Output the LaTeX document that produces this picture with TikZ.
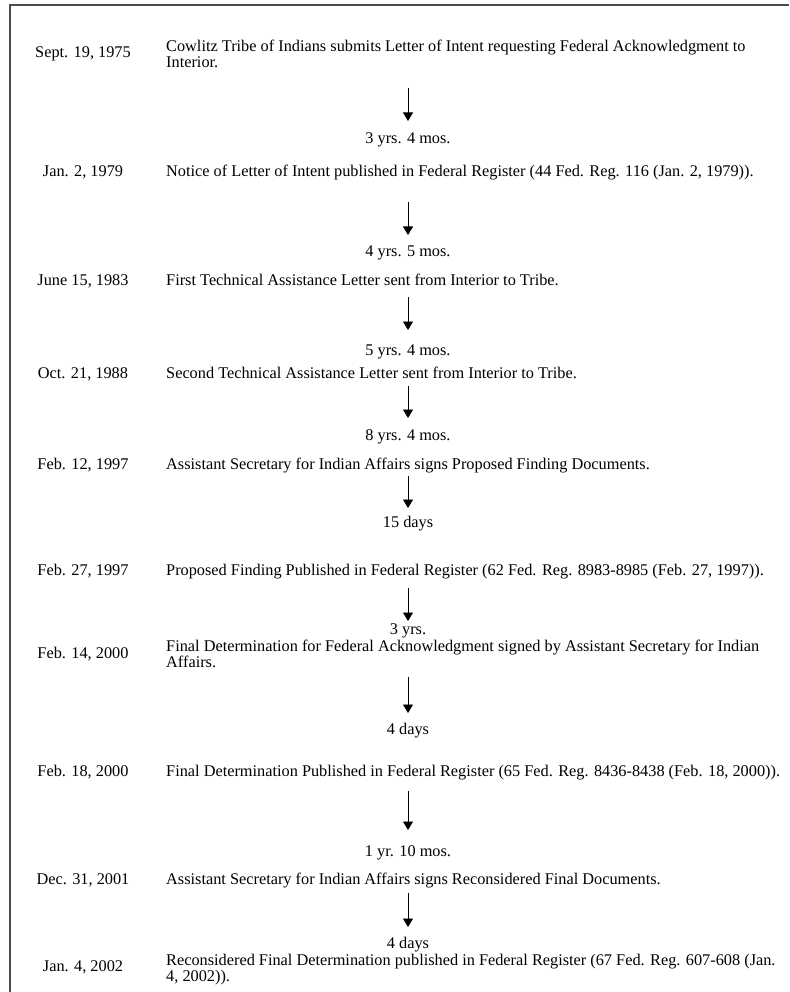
\documentclass[tikz,border=0pt]{standalone}
\usepackage{fontspec}
\setmainfont{Liberation Serif}
\usetikzlibrary{arrows.meta}
\newcommand\evfont{\fontsize{16.3}{16.3}\selectfont}
\begin{document}
\begin{tikzpicture}[x=1pt,y=-1pt,
  dt/.style={anchor=base, inner sep=0pt, font=\evfont},
  ev/.style={anchor=base west, inner sep=0pt, font=\evfont},
  evtwo/.style={anchor=north west, inner sep=0pt, align=left, font=\evfont},
  dur/.style={anchor=base, inner sep=0pt, font=\evfont},
  arr/.style={-{Triangle[width=10pt,length=8.5pt]}, line width=0.8pt},
  frame/.style={draw=black!70, line width=1.1pt}]
\useasboundingbox (0,0) rectangle (789,992);
\coordinate (fr1) at (789,5);
\coordinate (fr2) at (10,5);
\coordinate (fr3) at (10,992);
\draw[frame] (fr1) -- (fr2) -- (fr3);

% 1
\node[dt] (d1) at (83,58) {Sept. 19, 1975};
\node[evtwo] (t1) at (166,39.5) {Cowlitz Tribe of Indians submits Letter of Intent requesting Federal Acknowledgment to\\Interior.};
\coordinate (s1) at (408,88); \coordinate (e1) at (408,121);
\draw[arr] (s1) -- (e1);
\node[dur] (g1) at (408,144) {3 yrs. 4 mos.};
% 2
\node[dt] (d2) at (83,177) {Jan. 2, 1979};
\node[ev] (t2) at (166,177) {Notice of Letter of Intent published in Federal Register (44 Fed. Reg. 116 (Jan. 2, 1979)).};
\coordinate (s2) at (408,202); \coordinate (e2) at (408,235);
\draw[arr] (s2) -- (e2);
\node[dur] (g2) at (408,256) {4 yrs. 5 mos.};
% 3
\node[dt] (d3) at (83,285) {June 15, 1983};
\node[ev] (t3) at (166,285) {First Technical Assistance Letter sent from Interior to Tribe.};
\coordinate (s3) at (408,297); \coordinate (e3) at (408,330);
\draw[arr] (s3) -- (e3);
\node[dur] (g3) at (408,355) {5 yrs. 4 mos.};
% 4
\node[dt] (d4) at (83,378) {Oct. 21, 1988};
\node[ev] (t4) at (166,378) {Second Technical Assistance Letter sent from Interior to Tribe.};
\coordinate (s4) at (408,386); \coordinate (e4) at (408,418);
\draw[arr] (s4) -- (e4);
\node[dur] (g4) at (408,440) {8 yrs. 4 mos.};
% 5
\node[dt] (d5) at (83,469) {Feb. 12, 1997};
\node[ev] (t5) at (166,469) {Assistant Secretary for Indian Affairs signs Proposed Finding Documents.};
\coordinate (s5) at (408,476); \coordinate (e5) at (408,508);
\draw[arr] (s5) -- (e5);
\node[dur] (g5) at (408,527) {15 days};
% 6
\node[dt] (d6) at (83,575) {Feb. 27, 1997};
\node[ev] (t6) at (166,575) {Proposed Finding Published in Federal Register (62 Fed. Reg. 8983-8985 (Feb. 27, 1997)).};
\coordinate (s6) at (408,588); \coordinate (e6) at (408,621);
\draw[arr] (s6) -- (e6);
\node[dur] (g6) at (408,634.5) {3 yrs.};
% 7
\node[dt] (d7) at (83,658) {Feb. 14, 2000};
\node[evtwo] (t7) at (166,639.5) {Final Determination for Federal Acknowledgment signed by Assistant Secretary for Indian\\Affairs.};
\coordinate (s7) at (408,677); \coordinate (e7) at (408,713);
\draw[arr] (s7) -- (e7);
\node[dur] (g7) at (408,734) {4 days};
% 8
\node[dt] (d8) at (83,776) {Feb. 18, 2000};
\node[ev] (t8) at (166,776) {Final Determination Published in Federal Register (65 Fed. Reg. 8436-8438 (Feb. 18, 2000)).};
\coordinate (s8) at (408,791); \coordinate (e8) at (408,830);
\draw[arr] (s8) -- (e8);
\node[dur] (g8) at (408,856) {1 yr. 10 mos.};
% 9
\node[dt] (d9) at (83,884) {Dec. 31, 2001};
\node[ev] (t9) at (166,884) {Assistant Secretary for Indian Affairs signs Reconsidered Final Documents.};
\coordinate (s9) at (408,893); \coordinate (e9) at (408,927);
\draw[arr] (s9) -- (e9);
\node[dur] (g9) at (408,948) {4 days};
% 10
\node[dt] (d10) at (83,971) {Jan. 4, 2002};
\node[evtwo] (t10) at (166,953.5) {Reconsidered Final Determination published in Federal Register (67 Fed. Reg. 607-608 (Jan.\\4, 2002)).};
\end{tikzpicture}
\end{document}
